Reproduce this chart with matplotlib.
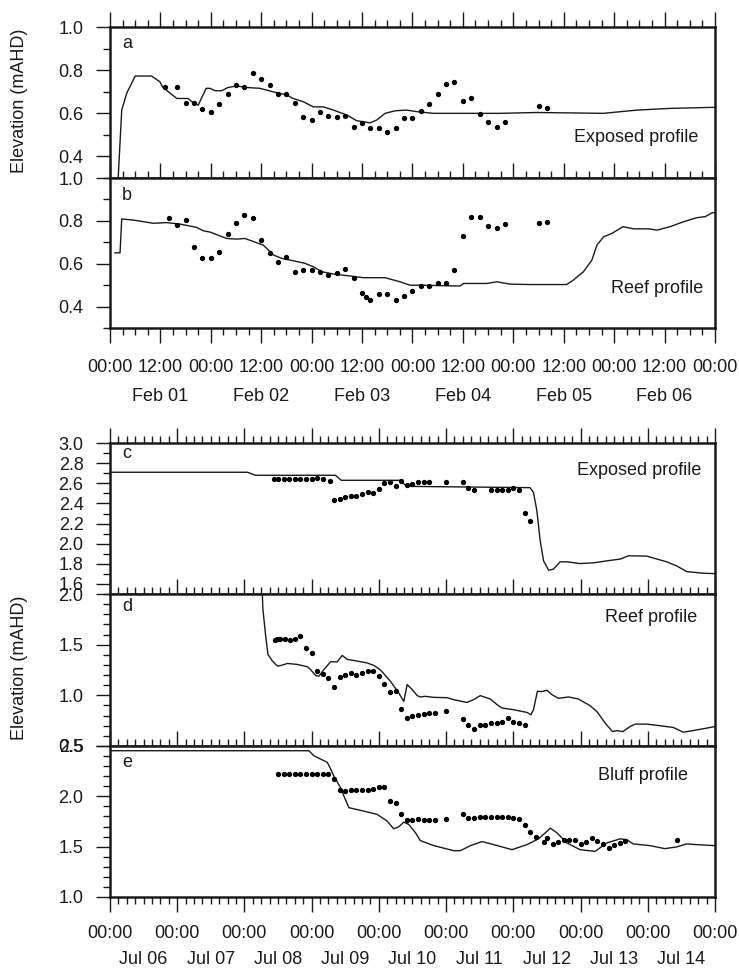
import numpy as np
import matplotlib.pyplot as plt
from matplotlib.ticker import MultipleLocator, FormatStrFormatter

plt.rcParams['font.family'] = ['Liberation Sans', 'DejaVu Sans']
plt.rcParams['font.size'] = 13
plt.rcParams['text.color'] = '#1a1a1a'
plt.rcParams['xtick.color'] = '#1a1a1a'
plt.rcParams['ytick.color'] = '#1a1a1a'

# ---- February event: hours since Feb 01 00:00 ----
feb_days = ['Feb 01', 'Feb 02', 'Feb 03', 'Feb 04', 'Feb 05', 'Feb 06']
feb_clock = ['00:00', '12:00'] * 6 + ['00:00']

# a - exposed profile (modelled line / observed dots)
a_line_h = [1.9, 2.8, 4.0, 6.0, 9.9, 11.9, 12.6, 15.9, 18.6, 19.5, 21.0, 22.9, 23.8, 25.0,
            26.6, 28.1, 30.2, 32.5, 35.7, 38.8, 42.1, 43.6, 46.0, 48.4, 50.8, 53.2, 56.4,
            58.7, 61.9, 63.5, 65.5, 67.9, 70.6, 73.4, 77.0, 81.7, 88.1, 92.9, 101.6, 117.4,
            125.4, 133.3, 144.0]
a_line_z = [0.28, 0.615, 0.694, 0.773, 0.773, 0.746, 0.72, 0.669, 0.669, 0.654, 0.638, 0.716,
            0.716, 0.705, 0.705, 0.72, 0.727, 0.72, 0.716, 0.70, 0.685, 0.669, 0.654, 0.63,
            0.63, 0.615, 0.592, 0.566, 0.556, 0.569, 0.60, 0.612, 0.615, 0.607, 0.60, 0.60,
            0.60, 0.60, 0.604, 0.60, 0.615, 0.623, 0.628]
a_obs_h = [13, 16, 18, 20, 22, 24, 26, 28, 30, 32, 34, 36, 38, 40, 42, 44, 46, 48, 50, 52,
           54, 56, 58, 60, 62, 64, 66, 68, 70, 72, 74, 76, 78, 80, 82, 84, 86, 88, 90, 92,
           94, 102, 104]
a_obs_z = [0.72, 0.72, 0.649, 0.649, 0.618, 0.607, 0.643, 0.69, 0.73, 0.723, 0.788, 0.759,
           0.73, 0.692, 0.69, 0.648, 0.584, 0.569, 0.605, 0.589, 0.584, 0.589, 0.538, 0.553,
           0.530, 0.530, 0.515, 0.533, 0.577, 0.577, 0.61, 0.643, 0.692, 0.736, 0.745, 0.658,
           0.669, 0.595, 0.561, 0.538, 0.56, 0.634, 0.624]

# b - reef profile
b_line_h = [1.2, 2.4, 2.8, 5.5, 10.3, 13.5, 16.7, 20.6, 22.2, 23.8, 27.8, 30.2, 32.1, 36.5,
            38.9, 40.9, 43.6, 46.4, 48.4, 50.4, 53.2, 57.1, 60.3, 65.5, 69.0, 71.4, 73.8,
            83.3, 84.1, 89.7, 92.1, 95.2, 100.0, 108.7, 110.3, 112.7, 114.7, 115.9, 117.5,
            119.5, 122.1, 124.6, 128.2, 130.2, 133.3, 136.5, 139.7, 141.7, 143.3, 144.0]
b_line_z = [0.651, 0.651, 0.809, 0.804, 0.789, 0.792, 0.785, 0.77, 0.754, 0.748, 0.718,
            0.715, 0.718, 0.687, 0.641, 0.625, 0.614, 0.602, 0.586, 0.563, 0.552, 0.543,
            0.535, 0.535, 0.516, 0.50, 0.50, 0.496, 0.508, 0.508, 0.516, 0.505, 0.503, 0.503,
            0.524, 0.563, 0.617, 0.687, 0.726, 0.742, 0.773, 0.763, 0.763, 0.757, 0.773,
            0.796, 0.815, 0.82, 0.838, 0.838]
b_obs_h = [14, 16, 18, 20, 22, 24, 26, 28, 30, 32, 34, 36, 38, 40, 42, 44, 46, 48, 50, 52,
           54, 56, 58, 60, 61, 62, 64, 66, 68, 70, 72, 74, 76, 78, 80, 82, 84, 86, 88, 90,
           92, 94, 102, 104]
b_obs_z = [0.815, 0.781, 0.806, 0.68, 0.628, 0.628, 0.653, 0.74, 0.792, 0.827, 0.812, 0.711,
           0.649, 0.608, 0.633, 0.563, 0.571, 0.571, 0.563, 0.549, 0.555, 0.574, 0.532,
           0.462, 0.446, 0.431, 0.459, 0.459, 0.431, 0.451, 0.473, 0.496, 0.496, 0.508,
           0.511, 0.571, 0.731, 0.82, 0.82, 0.776, 0.767, 0.785, 0.792, 0.796]

# ---- July event: hours since Jul 06 00:00 ----
jul_days = ['Jul 06', 'Jul 07', 'Jul 08', 'Jul 09', 'Jul 10', 'Jul 11', 'Jul 12', 'Jul 13', 'Jul 14']
jul_clock = ['00:00'] * 10

# c - exposed profile
c_line_h = [0, 49.1, 52.0, 80.5, 82.6, 103.7, 105.8, 150.0, 151.2, 152.4, 153.6, 154.8,
            156.6, 158.3, 160.7, 163.1, 167.8, 172.6, 177.4, 182.1, 185.1, 191.6, 198.8,
            202.3, 205.9, 211.8, 216.0]
c_line_z = [2.71, 2.71, 2.68, 2.68, 2.63, 2.63, 2.57, 2.557, 2.51, 2.33, 2.03, 1.83, 1.737,
            1.747, 1.82, 1.82, 1.803, 1.81, 1.83, 1.847, 1.88, 1.877, 1.82, 1.78, 1.723,
            1.707, 1.703]
c_obs_h = [58.6, 60.1, 62, 64, 66, 68, 70, 72, 74, 76, 78.5, 80, 82, 84, 86, 88, 90, 92, 94,
           96, 98, 100, 102, 104, 106, 108, 110, 112, 114, 120, 126, 128, 130, 136, 138, 140,
           142, 144, 146, 148, 150]
c_obs_z = [2.643, 2.643, 2.643, 2.645, 2.645, 2.645, 2.643, 2.648, 2.65, 2.648, 2.623, 2.43,
           2.447, 2.463, 2.477, 2.477, 2.49, 2.517, 2.503, 2.54, 2.603, 2.61, 2.57, 2.623,
           2.58, 2.597, 2.61, 2.61, 2.61, 2.61, 2.61, 2.557, 2.53, 2.53, 2.53, 2.535, 2.535,
           2.55, 2.53, 2.31, 2.223]

# d - reef profile
d_line_h = [54.0, 54.6, 55.6, 56.4, 58.0, 59.8, 61.5, 63.3, 66.9, 70.5, 71.6, 73.4, 74.6,
            76.4, 78.8, 81.1, 82.9, 84.7, 88.3, 91.8, 94.2, 96.6, 100.1, 103.1, 104.9, 106.1,
            107.9, 109.7, 110.8, 112.6, 115.6, 120.3, 122.7, 127.5, 129.8, 132.2, 135.8,
            138.2, 139.9, 144.1, 148.9, 150.3, 151.2, 152.6, 154.2, 156.0, 157.8, 160.1,
            163.7, 167.2, 171.4, 173.8, 176.8, 179.4, 181.0, 183.1, 185.7, 187.5, 191.6,
            196.4, 201.1, 204.7, 208.2, 213.0, 216.0]
d_line_z = [2.3, 1.85, 1.586, 1.404, 1.338, 1.288, 1.298, 1.315, 1.305, 1.282, 1.255, 1.196,
            1.189, 1.255, 1.332, 1.33, 1.394, 1.355, 1.338, 1.32, 1.295, 1.25, 1.14, 1.024,
            0.94, 1.106, 1.057, 0.997, 0.984, 0.99, 0.98, 0.977, 0.957, 0.93, 0.957, 0.997,
            0.964, 0.908, 0.875, 0.858, 0.831, 0.808, 0.858, 1.04, 1.037, 1.05, 1.007, 0.97,
            0.984, 0.964, 0.898, 0.841, 0.726, 0.642, 0.652, 0.642, 0.692, 0.716, 0.716,
            0.70, 0.683, 0.636, 0.652, 0.676, 0.692]
d_obs_h = [58.8, 59.5, 60.7, 62.4, 64.1, 66.0, 67.8, 70, 72, 74, 76, 78, 80, 82, 84, 86, 88,
           90, 92, 94, 96, 98, 100, 102, 104, 106, 108, 110, 112, 114, 116, 120, 126, 128,
           130, 132, 134, 136, 138, 140, 142, 144, 146, 148]
d_obs_z = [1.546, 1.553, 1.56, 1.56, 1.55, 1.556, 1.586, 1.464, 1.414, 1.242, 1.209, 1.173,
           1.083, 1.183, 1.199, 1.219, 1.199, 1.225, 1.242, 1.242, 1.186, 1.113, 1.03, 1.047,
           0.865, 0.776, 0.798, 0.808, 0.815, 0.825, 0.825, 0.848, 0.765, 0.709, 0.672,
           0.709, 0.709, 0.726, 0.726, 0.732, 0.776, 0.732, 0.726, 0.712]

# e - bluff profile
e_line_h = [0, 71.0, 72.8, 75.2, 77.6, 78.8, 79.9, 82.3, 83.5, 85.3, 90.6, 95.4, 99.0,
            101.3, 103.1, 104.9, 106.7, 109.1, 110.8, 115.6, 122.7, 125.1, 128.7, 132.8,
            137.0, 143.5, 148.9, 153.0, 155.4, 157.2, 159.6, 163.1, 167.8, 173.2, 177.4,
            182.1, 184.5, 186.8, 192.8, 198.1, 202.3, 205.9, 209.4, 216.0]
e_line_z = [2.453, 2.453, 2.403, 2.37, 2.337, 2.27, 2.203, 2.087, 2.003, 1.887, 1.853, 1.82,
            1.753, 1.677, 1.697, 1.743, 1.72, 1.637, 1.56, 1.51, 1.46, 1.46, 1.51, 1.55,
            1.52, 1.47, 1.52, 1.577, 1.637, 1.683, 1.637, 1.537, 1.47, 1.453, 1.537, 1.577,
            1.57, 1.527, 1.51, 1.48, 1.497, 1.527, 1.52, 1.51]
e_obs_h = [60, 62, 64, 66, 68, 70, 72, 74, 76, 78, 80, 82, 84, 86, 88, 90, 92, 94, 96, 98,
           100, 102, 104, 106, 108, 110, 112, 114, 116, 120, 126, 128, 130, 132, 134, 136,
           138, 140, 142, 144, 146, 148, 150, 152, 155, 156, 158, 160, 162, 164, 166, 168,
           170, 172, 174, 176, 178, 180, 182, 184, 202.5]
e_obs_z = [2.22, 2.22, 2.22, 2.22, 2.22, 2.22, 2.22, 2.22, 2.22, 2.22, 2.17, 2.063, 2.053,
           2.063, 2.063, 2.063, 2.063, 2.077, 2.093, 2.093, 1.953, 1.937, 1.82, 1.763, 1.763,
           1.77, 1.767, 1.767, 1.767, 1.77, 1.82, 1.78, 1.787, 1.797, 1.797, 1.797, 1.797,
           1.797, 1.79, 1.783, 1.77, 1.713, 1.643, 1.593, 1.55, 1.587, 1.53, 1.543, 1.563,
           1.563, 1.563, 1.527, 1.543, 1.583, 1.553, 1.527, 1.487, 1.52, 1.537, 1.56, 1.563]

ink = '#1a1a1a'

fig = plt.figure(figsize=(7.39, 9.74), dpi=100)
L, W = 0.1488, 0.8187
ax_a = fig.add_axes([L, 0.8172, W, 0.1550])
ax_b = fig.add_axes([L, 0.6632, W, 0.1540])
ax_c = fig.add_axes([L, 0.3901, W, 0.1550])
ax_d = fig.add_axes([L, 0.2341, W, 0.1560])
ax_e = fig.add_axes([L, 0.0791, W, 0.1550])


def draw_panel(ax, lh, lz, oh, oz, xmax, xmajor, ylim, ymajor, letter, letter_y,
               name, name_x, name_y, bottom):
    ax.plot(lh, lz, color=ink, lw=1.0, zorder=2)
    ax.plot(oh, oz, ls='none', marker='o', ms=2.8, color='black', zorder=3)
    ax.set_xlim(0, xmax)
    ax.set_ylim(*ylim)
    ax.xaxis.set_major_locator(MultipleLocator(xmajor))
    ax.xaxis.set_minor_locator(MultipleLocator(3))
    ax.yaxis.set_major_locator(MultipleLocator(ymajor))
    ax.yaxis.set_minor_locator(MultipleLocator(0.1))
    ax.yaxis.set_major_formatter(FormatStrFormatter('%.1f'))
    ax.tick_params(axis='x', which='both', direction='out', top=True, bottom=bottom,
                   labelbottom=bottom, labeltop=False, width=1)
    ax.tick_params(axis='x', which='major', length=11)
    ax.tick_params(axis='x', which='minor', length=5)
    ax.tick_params(axis='y', which='both', direction='out', right=False, width=1)
    ax.tick_params(axis='y', which='major', length=10, pad=9, labelsize=13)
    ax.tick_params(axis='y', which='minor', length=5)
    for s in ax.spines.values():
        s.set_linewidth(1.8)
        s.set_color(ink)
    ax.text(0.02, letter_y, letter, transform=ax.transAxes, ha='left', va='center', fontsize=13)
    ax.text(name_x, name_y, name, transform=ax.transAxes, ha='right', va='center', fontsize=13)


draw_panel(ax_a, a_line_h, a_line_z, a_obs_h, a_obs_z, 144, 12, (0.3, 1.0), 0.2,
           'a', 0.89, 'Exposed profile', 0.972, 0.27, False)
draw_panel(ax_b, b_line_h, b_line_z, b_obs_h, b_obs_z, 144, 12, (0.3, 1.0), 0.2,
           'b', 0.885, 'Reef profile', 0.98, 0.265, True)
draw_panel(ax_c, c_line_h, c_line_z, c_obs_h, c_obs_z, 216, 24, (1.5, 3.0), 0.2,
           'c', 0.93, 'Exposed profile', 0.978, 0.82, False)
draw_panel(ax_d, d_line_h, d_line_z, d_obs_h, d_obs_z, 216, 24, (0.5, 2.0), 0.5,
           'd', 0.915, 'Reef profile', 0.97, 0.845, False)
draw_panel(ax_e, e_line_h, e_line_z, e_obs_h, e_obs_z, 216, 24, (1.0, 2.5), 0.5,
           'e', 0.89, 'Bluff profile', 0.955, 0.805, True)

# time-of-day labels and date labels underneath
ax_b.set_xticks(np.arange(0, 145, 12), labels=feb_clock)
ax_b.tick_params(axis='x', which='major', pad=11, labelsize=13)
for i, day in enumerate(feb_days):
    ax_b.annotate(day, xy=(12 + 24 * i, 0), xycoords=('data', 'axes fraction'),
                  xytext=(0, -49), textcoords='offset points', ha='center', va='center',
                  fontsize=13)

ax_e.set_xticks(np.arange(0, 217, 24), labels=jul_clock)
ax_e.tick_params(axis='x', which='major', pad=9, labelsize=13)
for i, day in enumerate(jul_days):
    ax_e.annotate(day, xy=(12 + 24 * i, 0), xycoords=('data', 'axes fraction'),
                  xytext=(0, -45), textcoords='offset points', ha='center', va='center',
                  fontsize=13)

fig.text(0.026, 0.897, 'Elevation (mAHD)', rotation=90, ha='center', va='center', fontsize=13)
fig.text(0.026, 0.314, 'Elevation (mAHD)', rotation=90, ha='center', va='center', fontsize=13)

fig.savefig('out.png', dpi=100)
